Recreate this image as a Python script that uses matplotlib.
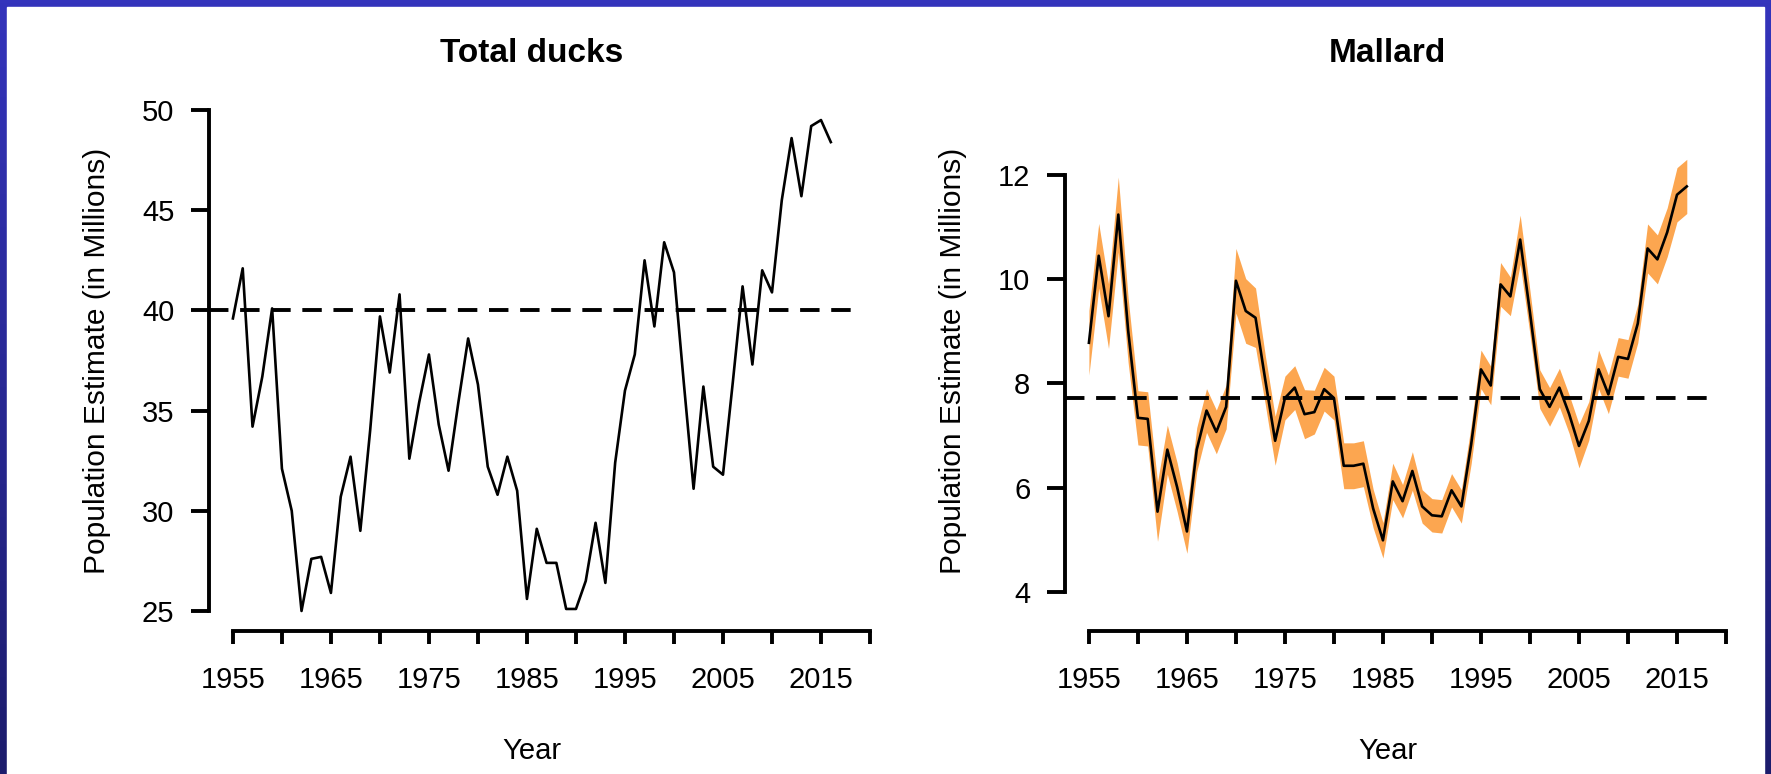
"""Breeding population estimates for total ducks and mallards, 1955-2016."""
import matplotlib

matplotlib.use("Agg")
import matplotlib.pyplot as plt
import matplotlib.transforms as mtransforms
import numpy as np
from matplotlib.patches import Rectangle

plt.rcParams["font.family"] = ["Liberation Sans", "DejaVu Sans"]

# ---- data ----
YEARS = list(range(1955, 2017))

TOTAL_DUCKS = [
    39.6, 42.1, 34.2, 36.7, 40.1, 32.1, 30.0, 25.0, 27.6, 27.7,
    25.9, 30.7, 32.7, 29.0, 34.0, 39.7, 36.9, 40.8, 32.6, 35.4,
    37.8, 34.3, 32.0, 35.4, 38.6, 36.3, 32.2, 30.8, 32.7, 31.0,
    25.6, 29.1, 27.4, 27.4, 25.1, 25.1, 26.5, 29.4, 26.4, 32.4,
    36.0, 37.8, 42.5, 39.2, 43.4, 41.9, 36.4, 31.1, 36.2, 32.2,
    31.8, 36.4, 41.2, 37.3, 42.0, 40.9, 45.5, 48.6, 45.7, 49.2,
    49.5, 48.4,
]
TOTAL_LTA = 40.0

MALLARD = [
    8.78, 10.45, 9.29, 11.24, 9.02, 7.34, 7.32, 5.54, 6.73, 6.01,
    5.16, 6.73, 7.48, 7.07, 7.55, 9.97, 9.39, 9.26, 8.06, 6.90,
    7.72, 7.92, 7.41, 7.45, 7.89, 7.72, 6.42, 6.42, 6.46, 5.60,
    4.99, 6.12, 5.74, 6.32, 5.64, 5.47, 5.45, 5.95, 5.64, 6.83,
    8.27, 7.96, 9.90, 9.67, 10.76, 9.36, 7.89, 7.55, 7.92, 7.41,
    6.80, 7.28, 8.27, 7.79, 8.51, 8.47, 9.15, 10.59, 10.38, 10.90,
    11.62, 11.78,
]
MALLARD_HALF_CI = [
    0.62, 0.62, 0.62, 0.72, 0.62, 0.52, 0.52, 0.57, 0.47, 0.47,
    0.42, 0.42, 0.42, 0.42, 0.42, 0.62, 0.62, 0.57, 0.47, 0.47,
    0.42, 0.42, 0.47, 0.42, 0.42, 0.42, 0.44, 0.44, 0.44, 0.37,
    0.34, 0.35, 0.32, 0.37, 0.32, 0.32, 0.32, 0.32, 0.32, 0.37,
    0.37, 0.37, 0.42, 0.37, 0.47, 0.42, 0.37, 0.37, 0.37, 0.37,
    0.42, 0.37, 0.37, 0.37, 0.37, 0.37, 0.37, 0.47, 0.47, 0.47,
    0.52, 0.52,
]
MALLARD_LTA = 7.73

X_TICKS = list(range(1955, 2021, 5))
X_TICK_LABELS = [str(y) if (y - X_TICKS[0]) % 10 == 0 else "" for y in X_TICKS]
TOTAL_Y_TICKS = [25, 30, 35, 40, 45, 50]
MALLARD_Y_TICKS = [4, 6, 8, 10, 12]

# ---- layout (pixels of the 1771x774 canvas) ----
W, H = 1771, 774
PLOT_TOP, PLOT_BOTTOM = 90, 631
AXES_WIDTH = 661
LEFT_X, RIGHT_X = 209, 1065
BAND_COLOR = "#fca650"


def setup_axes(fig, left_px, ylim, yticks, title):
    """Create an R-style panel: detached axis lines, title and labels centred on the plot region."""
    ax = fig.add_axes([left_px / W, 1 - PLOT_BOTTOM / H, AXES_WIDTH / W, (PLOT_BOTTOM - PLOT_TOP) / H])
    ax.patch.set_alpha(0)

    pad = 0.04 * (YEARS[-1] - YEARS[0])
    x_lo, x_hi = YEARS[0] - pad, YEARS[-1] + pad
    ax.set_xlim(x_lo, X_TICKS[-1])
    ax.set_ylim(*ylim)

    for side in ("top", "right"):
        ax.spines[side].set_visible(False)
    for side in ("left", "bottom"):
        ax.spines[side].set_linewidth(2.8)
    ax.spines["left"].set_bounds(yticks[0], yticks[-1])
    ax.spines["bottom"].set_bounds(X_TICKS[0], X_TICKS[-1])

    ax.set_xticks(X_TICKS, X_TICK_LABELS)
    ax.set_yticks(yticks, [str(v) for v in yticks])
    ax.tick_params(axis="x", length=9, width=2.8, pad=16, labelsize=21)
    ax.tick_params(axis="y", length=13, width=2.8, pad=12, labelsize=21)

    mid = (x_lo + x_hi) / 2
    trans = mtransforms.blended_transform_factory(ax.transData, fig.transFigure)
    ax.text(mid, 1 - 53 / H, title, transform=trans, ha="center", va="center",
            fontsize=24, fontweight="bold")
    ax.text(mid, 1 - 751 / H, "Year", transform=trans, ha="center", va="center", fontsize=21)
    fig.text((left_px - 112) / W, 1 - (PLOT_TOP + PLOT_BOTTOM) / 2 / H,
             "Population Estimate (in Millions)", rotation=90, ha="center", va="center", fontsize=21.5)
    return ax, x_lo, x_hi


fig = plt.figure(figsize=(W / 100, H / 100), dpi=100)

# blue slide frame behind the white panel, brighter at the top
bg = fig.add_axes([0, 0, 1, 1], zorder=-10)
bg.axis("off")
grad = np.linspace(0, 1, 256).reshape(-1, 1)
bg.imshow(grad, aspect="auto", extent=(0, 1, 0, 1), origin="lower",
          cmap=matplotlib.colors.LinearSegmentedColormap.from_list("frame", ["#1c1c6c", "#3434bc"]))
bg.add_patch(Rectangle((7 / W, 0), (W - 14) / W, (H - 7) / H, color="white", transform=bg.transAxes))
bg.set_xlim(0, 1)
bg.set_ylim(0, 1)

dash = (0, (5, 3))

ax1, lo, hi = setup_axes(fig, LEFT_X, (24.0, 51.0), TOTAL_Y_TICKS, "Total ducks")
ax1.hlines(TOTAL_LTA, lo, hi, colors="black", linewidth=2.8, linestyles=dash, zorder=2)
ax1.plot(YEARS, TOTAL_DUCKS, color="black", linewidth=1.9, zorder=3)

ax2, lo, hi = setup_axes(fig, RIGHT_X, (3.25, 13.63), MALLARD_Y_TICKS, "Mallard")
mallard = np.array(MALLARD)
half = np.array(MALLARD_HALF_CI)
ax2.fill_between(YEARS, mallard - half, mallard + half, color=BAND_COLOR, linewidth=0, zorder=1)
ax2.hlines(MALLARD_LTA, lo, hi, colors="black", linewidth=2.8, linestyles=dash, zorder=2)
ax2.plot(YEARS, MALLARD, color="black", linewidth=1.9, zorder=3)

fig.savefig("out.png", dpi=100)
